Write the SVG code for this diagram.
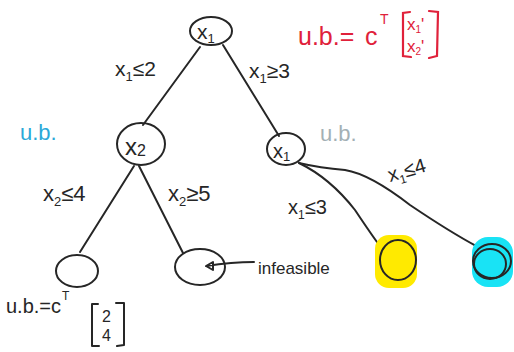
<svg xmlns="http://www.w3.org/2000/svg" width="514" height="352" viewBox="0 0 514 352">
<style>
.ln{fill:none;stroke:#262626;stroke-width:2;stroke-linecap:round;stroke-linejoin:round}
.t{font-family:"Liberation Sans",Arial,sans-serif;fill:#262626}
.red{fill:#e0213a}
.redl{fill:none;stroke:#e0213a;stroke-width:2.2;stroke-linecap:round}
</style>
<rect width="514" height="352" fill="#fff"/>
<g id="connectors">
<path class="ln" d="M200 47 L143 125"/>
<path class="ln" d="M223 45 L279 136"/>
<path class="ln" d="M134 166 L80 252"/>
<path class="ln" d="M139 166 L183 253"/>
<path class="ln" d="M299 163 Q330 178 355 210 Q375 240 383 250"/>
<path class="ln" d="M299 163 Q320 168 345 170 Q370 174 410 205 Q450 232 478 247"/>
<path class="ln" d="M254 262 Q232 262 206 266 L213 262 L213 270 L206 266"/>
</g>
<g id="labels">
<text class="t" x="115" y="76" font-size="21">x<tspan font-size="13" dy="5">1</tspan><tspan dy="-5">≤2</tspan></text>
<text class="t" x="249" y="78" font-size="21">x<tspan font-size="13" dy="5">1</tspan><tspan dy="-5">≥3</tspan></text>
<text class="t" x="43" y="201" font-size="22">x<tspan font-size="13" dy="5">2</tspan><tspan dy="-5">≤4</tspan></text>
<text class="t" x="168" y="201" font-size="22">x<tspan font-size="13" dy="5">2</tspan><tspan dy="-5">≥5</tspan></text>
<text class="t" x="288" y="214" font-size="20">x<tspan font-size="12" dy="5">1</tspan><tspan dy="-5">≤3</tspan></text>
<text class="t" x="390" y="182" font-size="20" transform="rotate(-16 390 182)">x<tspan font-size="12" dy="5">1</tspan><tspan dy="-5">≤4</tspan></text>
<text class="t" x="258" y="274" font-size="17">infeasible</text>
<text x="20" y="140" font-size="22" font-family="Liberation Sans,Arial,sans-serif" fill="#2aa8d8">u.b.</text>
<text x="320" y="141" font-size="22" font-family="Liberation Sans,Arial,sans-serif" fill="#a3b0b5">u.b.</text>
</g>
<g id="ub-root">
<text class="t red" x="298" y="45" font-size="25">u.b.=</text>
<text class="t red" x="365" y="45" font-size="25">c</text>
<text class="t red" x="380" y="24" font-size="14">T</text>
<path class="redl" d="M410 12 L403 13 L403 56 L411 57"/>
<path class="redl" d="M429 11 L438 12 L437 56 L429 58"/>
<text class="t red" x="407" y="30" font-size="17">x<tspan font-size="10" dy="3">1</tspan><tspan dy="-3">'</tspan></text>
<text class="t red" x="407" y="52" font-size="17">x<tspan font-size="10" dy="3">2</tspan><tspan dy="-3">'</tspan></text>
</g>
<g id="ub-leaf">
<text class="t" x="6" y="313" font-size="20">u.b.=c</text>
<text class="t" x="62" y="300" font-size="12">T</text>
<path class="ln" d="M98 304 L92 304 L92 346 L99 346"/>
<path class="ln" d="M116 303 L124 303 L124 345 L117 346"/>
<text class="t" x="102" y="322" font-size="16">2</text>
<text class="t" x="102" y="341" font-size="16">4</text>
</g>
<g id="node-root">
<ellipse class="ln" cx="211" cy="31" rx="21" ry="14"/>
<text class="t" x="197" y="39" font-size="21">x<tspan font-size="13" dy="4">1</tspan></text>
</g>
<g id="node-x2">
<ellipse class="ln" cx="141" cy="144" rx="24" ry="21"/>
<text class="t" x="125" y="155" font-size="24">x<tspan font-size="16" dy="1">2</tspan></text>
</g>
<g id="node-x1">
<ellipse class="ln" cx="286" cy="149" rx="19" ry="16"/>
<text class="t" x="273" y="158" font-size="20">x<tspan font-size="13" dy="3">1</tspan></text>
</g>
<g id="leaf-left">
<ellipse class="ln" cx="77" cy="271" rx="21" ry="16"/>
</g>
<g id="leaf-infeasible">
<ellipse class="ln" cx="200" cy="267" rx="25" ry="18"/>
</g>
<g id="leaf-yellow">
<rect x="375" y="235" width="42" height="53" rx="14" fill="#ffea00"/>
<ellipse class="ln" cx="398" cy="260" rx="18" ry="20"/>
</g>
<g id="leaf-cyan">
<rect x="472" y="237" width="41" height="50" rx="16" fill="#19e3f5"/>
<ellipse class="ln" cx="492" cy="261" rx="19" ry="17"/>
<ellipse class="ln" cx="490" cy="264" rx="16" ry="15" stroke-width="1.4"/>
</g>
</svg>
